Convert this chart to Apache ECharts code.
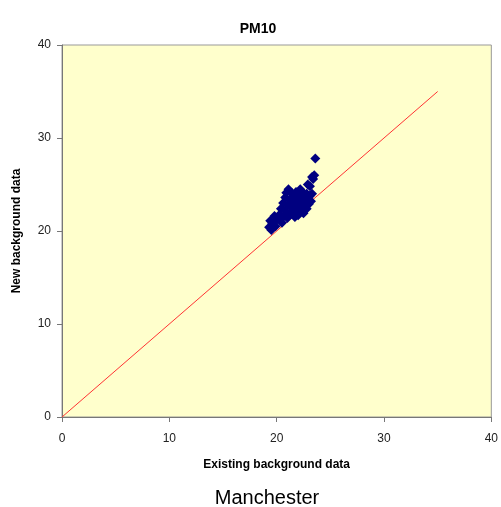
<!DOCTYPE html>
<html><head><meta charset="utf-8">
<script src="https://cdn.jsdelivr.net/npm/echarts@6/dist/echarts.min.js"></script>
<style>html,body{margin:0;padding:0;background:#fff}#c{width:501px;height:507px}</style>
</head><body><div id="c"></div>
<script>
const xTicks = [0, 10, 20, 30, 40];
const yTicks = [0, 10, 20, 30, 40];
const existing = [19.3,19.5,19.6,19.4,19.9,20.0,19.8,
  20.3,20.4,20.6,20.6,20.8,20.8,20.9,21.0,21.1,21.2,21.2,21.4,21.4,21.5,21.6,21.6,21.8,21.8,21.9,22.0,22.0,22.1,22.2,22.3,22.4,22.5,22.5,22.6,22.7,22.8,22.9,23.0,23.1,23.2,22.2,21.0,20.5,21.7,22.8,23.3,23.1,22.9,
  23.3,23.5,23.4,23.6];
const newer = [20.4,20.1,20.8,21.1,20.5,21.2,21.6,
  21.8,22.4,21.5,23.0,22.2,23.6,24.1,22.8,24.5,21.8,23.4,24.1,22.5,23.0,21.9,23.7,22.4,24.2,23.2,21.7,22.8,23.8,22.2,23.3,24.2,22.6,21.9,23.7,22.9,24.0,23.3,22.9,23.8,23.2,24.5,21.4,20.9,21.5,22.4,24.0,24.8,25.0,
  25.8,26.0,25.6,27.8];
const lineX = [0, 35];
const lineY = [0, 35];
const titleText = 'PM10';
const subText = 'Manchester';

const pts = existing.map((x, i) => [x, newer[i]]);
const linePts = lineX.map((x, i) => [x, lineY[i]]);
const font = '"Liberation Sans", Arial, sans-serif';

const chart = echarts.init(document.getElementById('c'), null, {renderer: 'canvas'});
chart.setOption({
  animation: false,
  backgroundColor: '#ffffff',
  title: [
    {text: titleText, left: 253, top: 17, textAlign: 'center',
     textStyle: {fontFamily: font, fontSize: 14, fontWeight: 'bold', color: '#000'}},
    {text: subText, left: 262, top: 483, textAlign: 'center',
     textStyle: {fontFamily: font, fontSize: 20, fontWeight: 'normal', color: '#000'}}
  ],
  grid: {left: 62, right: 8, top: 45, bottom: 90, show: true,
         backgroundColor: '#ffffcc', borderColor: '#999999', borderWidth: 1},
  xAxis: {
    type: 'value', min: xTicks[0], max: xTicks[xTicks.length-1], interval: 10,
    name: 'Existing background data', nameLocation: 'middle', nameGap: 42,
    nameTextStyle: {fontFamily: font, fontSize: 12, fontWeight: 'bold', color: '#000'},
    axisLine: {show: true, lineStyle: {color: '#777777', width: 1}},
    axisTick: {show: true, inside: false, length: 5, lineStyle: {color: '#777777'}},
    axisLabel: {fontFamily: font, fontSize: 12, color: '#222', margin: 16},
    splitLine: {show: false}
  },
  yAxis: {
    type: 'value', min: yTicks[0], max: yTicks[yTicks.length-1], interval: 10,
    name: 'New background data', nameLocation: 'middle', nameGap: 39,
    nameTextStyle: {fontFamily: font, fontSize: 12, fontWeight: 'bold', color: '#000'},
    axisLine: {show: true, lineStyle: {color: '#777777', width: 1}},
    axisTick: {show: true, inside: false, length: 5, lineStyle: {color: '#777777'}},
    axisLabel: {fontFamily: font, fontSize: 12, color: '#222', margin: 11},
    splitLine: {show: false}
  },
  series: [
    {type: 'line', data: linePts, symbol: 'none', silent: true,
     lineStyle: {color: '#ff3333', width: 1}, z: 1},
    {type: 'scatter', data: pts, symbol: 'diamond', symbolSize: 10,
     itemStyle: {color: '#000080', opacity: 1}, z: 2}
  ]
});
</script></body></html>
